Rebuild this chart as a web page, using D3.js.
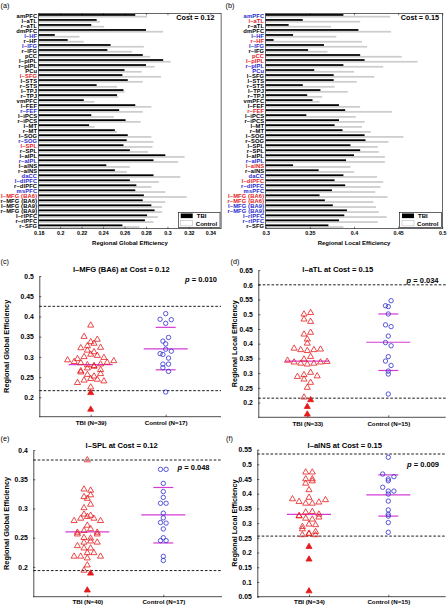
<!DOCTYPE html>
<html><head><meta charset="utf-8">
<script src="https://cdn.jsdelivr.net/npm/d3@7"></script>
<style>body{margin:0;background:#fff}svg{display:block}</style>
</head><body><svg id="chart" width="448" height="606"></svg>
<script>
// ---------------- DATA ----------------
const regions = ["amPFC","l–aTL","r–aTL","dmPFC","l–HF","r–HF","l–IFG","r–IFG","pCC","l–pIPL","r–pIPL","PCu","l–SFG","l–STS","r–STS","l–TPJ","r–TPJ","vmPFC","l–FEF","r–FEF","l–iPCS","r–iPCS","l–MT","r–MT","l–SOG","r–SOG","l–SPL","r–SPL","l–aIPL","r–aIPL","l–aINS","r–aINS","daCC","l–dlPFC","r–dlPFC","msPFC","l–MFG (BA6)","r–MFG (BA6)","l–MFG (BA9)","r–MFG (BA9)","l–rlPFC","r–rlPFC","r–SFG"];
const labelColorA = ["k","k","k","k","b","k","b","k","k","k","k","k","r","k","k","k","k","k","k","b","k","k","k","k","k","b","r","k","k","b","k","k","b","b","k","b","r","k","k","k","k","k","k"];
const labelColorB = ["b","r","k","k","b","r","b","k","r","r","b","b","k","k","k","k","k","k","k","r","k","k","k","k","k","k","k","k","k","b","r","k","b","r","b","b","r","r","b","b","b","b","k"];
const tbiGlobal = [0.270,0.234,0.229,0.280,0.195,0.207,0.247,0.244,0.277,0.296,0.280,0.260,0.258,0.263,0.234,0.259,0.253,0.222,0.270,0.255,0.229,0.261,0.227,0.251,0.263,0.262,0.259,0.265,0.298,0.287,0.243,0.251,0.287,0.265,0.271,0.270,0.278,0.277,0.285,0.288,0.281,0.279,0.258];
const ctrlGlobal = [0.281,0.237,0.241,0.296,0.218,0.222,0.278,0.267,0.284,0.303,0.288,0.276,0.294,0.277,0.253,0.260,0.254,0.232,0.285,0.277,0.250,0.275,0.232,0.253,0.285,0.287,0.286,0.282,0.316,0.310,0.265,0.262,0.312,0.292,0.285,0.298,0.318,0.298,0.295,0.295,0.291,0.287,0.274];
const tbiLocal = [0.388,0.342,0.326,0.405,0.331,0.309,0.366,0.348,0.407,0.412,0.388,0.355,0.377,0.377,0.342,0.362,0.347,0.353,0.383,0.390,0.346,0.383,0.378,0.387,0.412,0.413,0.396,0.407,0.400,0.391,0.331,0.360,0.388,0.378,0.390,0.375,0.361,0.367,0.376,0.392,0.389,0.383,0.371];
const ctrlLocal = [0.441,0.407,0.374,0.442,0.380,0.409,0.415,0.370,0.454,0.472,0.433,0.400,0.423,0.403,0.378,0.393,0.364,0.361,0.407,0.443,0.402,0.412,0.409,0.419,0.456,0.439,0.427,0.428,0.435,0.435,0.396,0.400,0.426,0.433,0.430,0.424,0.438,0.422,0.425,0.428,0.437,0.427,0.388];
const ticksA = [0.18,0.2,0.22,0.24,0.26,0.28,0.3,0.32,0.34];
const ticksB = [0.3,0.35,0.4,0.45,0.5];
const legendLabels = ["TBI","Control"];

// panel (c)
const tbiC = [0.378,0.350,0.343,0.337,0.333,0.327,0.323,0.322,0.316,0.312,0.306,0.303,0.300,0.298,0.295,0.292,0.290,0.288,0.286,0.285,0.282,0.280,0.278,0.276,0.272,0.268,0.265,0.262,0.258,0.256,0.252,0.246,0.244,0.242,0.240,0.236,0.225];
const tbiOutC = [0.211,0.170];
const ctrlC = [0.407,0.393,0.392,0.383,0.348,0.339,0.332,0.319,0.314,0.308,0.306,0.297,0.282,0.282,0.273,0.264,0.213];
const tbiMeanC = 0.281, ctrlMeanC = 0.320, ctrlSdC = [0.373,0.268];
const thrC = [0.425,0.2164];
const ticksC = [0.2,0.25,0.3,0.35,0.4,0.45,0.5];
const catC = ["TBI (N=39)","Control (N=17)"];
// panel (d)
const tbiD = [0.505,0.500,0.483,0.475,0.438,0.432,0.415,0.401,0.384,0.381,0.379,0.379,0.376,0.356,0.347,0.343,0.339,0.337,0.337,0.333,0.333,0.330,0.302,0.294,0.290,0.288,0.279,0.268,0.251,0.218];
const tbiOutD = [0.209,0.186,0.160];
const ctrlD = [0.546,0.529,0.526,0.501,0.464,0.458,0.426,0.404,0.393,0.356,0.341,0.326,0.307,0.297,0.229];
const tbiMeanD = 0.341, ctrlMeanD = 0.405, ctrlSdD = [0.501,0.309];
const thrD = [0.6,0.215];
const ticksD = [0.2,0.25,0.3,0.35,0.4,0.45,0.5,0.55,0.6,0.65];
const catD = ["TBI (N=33)","Control (N=15)"];
// panel (e)
const tbiE = [0.383,0.333,0.331,0.323,0.320,0.317,0.307,0.301,0.290,0.288,0.286,0.283,0.283,0.279,0.279,0.271,0.265,0.262,0.259,0.259,0.256,0.256,0.250,0.249,0.244,0.242,0.242,0.236,0.232,0.232,0.224,0.224,0.218,0.218,0.218,0.215,0.203,0.194];
const tbiOutE = [0.189,0.160];
const ctrlE = [0.367,0.367,0.343,0.329,0.319,0.309,0.309,0.292,0.284,0.276,0.275,0.265,0.250,0.245,0.245,0.218,0.211];
const tbiMeanE = 0.260, ctrlMeanE = 0.289, ctrlSdE = [0.336,0.241];
const thrE = [0.383,0.1937];
const ticksE = [0.2,0.25,0.3,0.35,0.4];
const catE = ["TBI (N=40)","Control (N=17)"];
// panel (f)
const tbiF = [0.473,0.473,0.450,0.450,0.443,0.435,0.413,0.387,0.382,0.379,0.373,0.371,0.367,0.367,0.339,0.337,0.330,0.325,0.324,0.320,0.316,0.313,0.296,0.294,0.288,0.280,0.271,0.265,0.263,0.260,0.260];
const tbiOutF = [0.220,0.177,0.069];
const ctrlF = [0.524,0.467,0.458,0.450,0.444,0.422,0.409,0.409,0.399,0.375,0.345,0.330,0.324,0.302,0.269];
const tbiMeanF = 0.330, ctrlMeanF = 0.396, ctrlSdF = [0.464,0.324];
const thrF = [0.535,0.256];
const ticksF = [0.05,0.1,0.15,0.2,0.25,0.3,0.35,0.4,0.45,0.5,0.55];
const catF = ["TBI (N=34)","Control (N=15)"];

// ---------------- DRAW ----------------
const FONT = '"Liberation Sans", Arial, Helvetica, sans-serif';
const colorMap = {k:"#000000", b:"#2828cc", r:"#e41a1c"};
const RED = "#e41a1c", BLUE = "#2f2fd0", MAG = "#d53cd5";
const svg = d3.select("#chart");
svg.append("rect").attr("width",448).attr("height",606).attr("fill","#fff");
const fmt = d3.format("~g");

function txt(g, x, y, s, size, opts={}){
  return g.append("text").attr("x",x).attr("y",y).text(s)
    .attr("font-family",FONT).attr("font-size",size)
    .attr("font-weight", opts.weight||"bold")
    .attr("text-anchor", opts.anchor||"start")
    .attr("fill", opts.fill||"#000");
}

function barPanel(o){
  const g = svg.append("g");
  const x = d3.scaleLinear().domain(o.domain).range([o.x0,o.x1]);
  const y = d3.scaleBand().domain(regions).range([o.y0,o.y1]).paddingInner(0.3).paddingOuter(0.15);
  const bh = y.bandwidth()/2;
  const base = x(o.domain[0]);
  g.selectAll("rect.ctrl").data(regions).join("rect").attr("class","ctrl")
    .attr("x",base).attr("y",d=>y(d)+bh).attr("height",bh)
    .attr("width",(d,i)=>x(o.ctrl[i])-base).attr("fill","#cdcdcd");
  g.selectAll("rect.tbi").data(regions).join("rect").attr("class","tbi")
    .attr("x",base).attr("y",d=>y(d)).attr("height",bh)
    .attr("width",(d,i)=>x(o.tbi[i])-base).attr("fill","#000");
  g.append("rect").attr("x",o.x0).attr("y",o.y0).attr("width",o.x1-o.x0).attr("height",o.y1-o.y0)
    .attr("fill","none").attr("stroke","#000").attr("stroke-width",0.6);
  const ax = g.append("g").attr("transform",`translate(0,${o.y1})`)
    .call(d3.axisBottom(x).tickValues(o.ticks).tickFormat(fmt).tickSize(-2).tickSizeOuter(0).tickPadding(2.5));
  ax.select(".domain").remove();
  ax.selectAll("line").attr("stroke-width",0.5);
  ax.selectAll("text").attr("font-size",5.3).attr("font-family",FONT).attr("font-weight","bold");
  const at = g.append("g").attr("transform",`translate(0,${o.y0})`)
    .call(d3.axisTop(x).tickValues(o.ticks).tickFormat("").tickSize(-2).tickSizeOuter(0));
  at.select(".domain").remove();
  at.selectAll("line").attr("stroke-width",0.5);
  g.selectAll("text.row").data(regions).join("text").attr("class","row")
    .attr("x",o.x0-1.5).attr("y",d=>y(d)+y.bandwidth()/2).attr("dy","0.36em")
    .attr("text-anchor","end").attr("font-family",FONT).attr("font-size",5.8).attr("font-weight","bold")
    .attr("letter-spacing",0.12)
    .attr("fill",(d,i)=>colorMap[o.colors[i]]).text(d=>d);
  txt(g,(o.x0+o.x1)/2,245,o.xlabel,6,{anchor:"middle"});
  txt(g,o.costX,20,o.cost,7.2,{anchor:"end"});
  txt(g,o.letterX,7.5,o.letter,7.2,{weight:"normal"});
  const lx = o.legendRight-41.7, ly = 212.3;
  g.append("rect").attr("x",lx).attr("y",ly).attr("width",41.7).attr("height",15).attr("fill","#fff").attr("stroke","#000").attr("stroke-width",0.6);
  g.append("rect").attr("x",lx+2.4).attr("y",ly+1.2).attr("width",12).attr("height",4.6).attr("fill","#000");
  g.append("rect").attr("x",lx+2.4).attr("y",ly+8).attr("width",12).attr("height",5.6).attr("fill","#fff").attr("stroke","#999").attr("stroke-width",0.4);
  txt(g,lx+18.5,ly+5.6,legendLabels[0],6,{fill:"#000"});
  txt(g,lx+17.5,ly+13.3,legendLabels[1],6,{fill:"#000"});
}

function spreadX(vals, y, cx, binPx, spacing){
  const items = vals.map(d=>({v:d.v, filled:d.filled, py:y(d.v)}));
  const groups = d3.groups(items, d=>Math.floor(d.py/binPx)).sort((a,b)=>a[0]-b[0]);
  groups.forEach(([k,arr],bi)=>{
    arr.sort((a,b)=>a.v-b.v);
    const n = arr.length, slots = [];
    for(let j=0;j<n;j++) slots.push(j%2===0 ? j/2 : n-1-(j-1)/2);
    if(bi%2) slots.reverse();
    arr.forEach((d,j)=>{ d.px = cx + (slots[j]-(n-1)/2)*spacing; });
  });
  return items;
}

function scatterPanel(o){
  const g = svg.append("g");
  const y = d3.scaleLinear().domain(o.yDomain).range([o.yBottom,o.yTop]);
  const x = d3.scalePoint().domain(o.cats).range([o.xTbi,o.xCtrl]);
  g.selectAll("line.thr").data(o.thr).join("line").attr("class","thr")
    .attr("x1",o.xLeft).attr("x2",o.xRight).attr("y1",d=>y(d)).attr("y2",d=>y(d))
    .attr("stroke","#000").attr("stroke-width",0.9).attr("stroke-dasharray","2.6,1.8");
  const yg = g.append("g").attr("transform",`translate(${o.xLeft},0)`)
    .call(d3.axisLeft(y).tickValues(o.ticks).tickFormat(fmt).tickSize(-2).tickSizeOuter(0).tickPadding(5.5));
  yg.select(".domain").attr("stroke-width",0.7);
  yg.selectAll("line").attr("stroke-width",0.6);
  yg.selectAll("text").attr("font-size",6.8).attr("font-family",FONT).attr("font-weight","bold");
  g.append("line").attr("x1",o.xLeft).attr("x2",o.xRight).attr("y1",o.yBottom).attr("y2",o.yBottom).attr("stroke","#000").attr("stroke-width",0.7);
  const xg = g.append("g").attr("transform",`translate(0,${o.yBottom})`)
    .call(d3.axisBottom(x).tickSize(-2).tickSizeOuter(0).tickPadding(o.xPad));
  xg.select(".domain").remove();
  xg.selectAll("line").attr("stroke-width",0.6);
  xg.selectAll("text").attr("font-size",6.2).attr("font-family",FONT).attr("font-weight","bold");
  const xT = x(o.cats[0]), xC = x(o.cats[1]);
  const segs = [{c:xT,v:o.tbiMean,w:22},{c:xC,v:o.ctrlMean,w:22}].concat(o.ctrlSd.map(v=>({c:xC,v,w:10})));
  g.selectAll("line.m").data(segs).join("line").attr("class","m")
    .attr("x1",d=>d.c-d.w).attr("x2",d=>d.c+d.w).attr("y1",d=>y(d.v)).attr("y2",d=>y(d.v))
    .attr("stroke",MAG).attr("stroke-width",1.2);
  const tbiAll = o.tbi.map(v=>({v,filled:false})).concat(o.tbiOut.map(v=>({v,filled:true})));
  const tp = spreadX(tbiAll, y, xT, 6, 6.6);
  const tri = d3.symbol(d3.symbolTriangle, 16);
  g.selectAll("path.t").data(tp).join("path").attr("class","t")
    .attr("d",tri).attr("transform",d=>`translate(${d.px},${d.py})`)
    .attr("fill",d=>d.filled?RED:"none").attr("stroke",RED).attr("stroke-width",0.8);
  const cp = spreadX(o.ctrl.map(v=>({v,filled:false})), y, xC, 6, 5.6);
  g.selectAll("circle.c").data(cp).join("circle").attr("class","c")
    .attr("cx",d=>d.px).attr("cy",d=>d.py).attr("r",2.2)
    .attr("fill","none").attr("stroke",BLUE).attr("stroke-width",0.8);
  txt(g,o.titleX,o.titleY,o.title,7.6,{anchor:"middle"});
  const p = txt(g,o.pX,o.pY,"",7.5,{anchor:"end"});
  p.append("tspan").attr("font-style","italic").text("p");
  p.append("tspan").text(" = "+o.p);
  txt(g,o.letterX,o.letterY,o.letter,7.2,{weight:"normal"});
  g.append("text").attr("transform",`translate(${o.ylabX},${(o.yTop+o.yBottom)/2}) rotate(-90)`)
    .attr("text-anchor","middle").attr("dy","0.35em").attr("font-family",FONT).attr("font-size",o.ylabSize)
    .attr("font-weight","bold").text(o.ylab);
}

barPanel({x0:38.7,x1:221.1,y0:13.3,y1:228.7,domain:[0.18,0.35],ticks:ticksA,tbi:tbiGlobal,ctrl:ctrlGlobal,
  colors:labelColorA,xlabel:"Regional Global Efficiency",cost:"Cost = 0.12",costX:214.5,letter:"(a)",letterX:0.5,legendRight:220});
barPanel({x0:265.7,x1:442.3,y0:13.3,y1:228.7,domain:[0.3,0.5],ticks:ticksB,tbi:tbiLocal,ctrl:ctrlLocal,
  colors:labelColorB,xlabel:"Regional Local Efficiency",cost:"Cost = 0.15",costX:439,letter:"(b)",letterX:225.5,legendRight:441.3});

scatterPanel({xLeft:39.3,xRight:221,yBottom:416.7,yTop:276,yDomain:[0.152,0.5],xTbi:90.7,xCtrl:165.7,cats:catC,
  tbi:tbiC,tbiOut:tbiOutC,ctrl:ctrlC,tbiMean:tbiMeanC,ctrlMean:ctrlMeanC,ctrlSd:ctrlSdC,thr:thrC,ticks:ticksC,xPad:3.9,
  title:"l–MFG (BA6) at Cost = 0.12",titleX:121.3,titleY:271.5,p:"0.010",pX:217,pY:281.5,letter:"(c)",letterX:0.5,letterY:263.5,
  ylab:"Regional Global Efficiency",ylabX:6.5,ylabSize:7.4});
scatterPanel({xLeft:258.3,xRight:445.7,yBottom:417.3,yTop:270.1,yDomain:[0.15,0.65],xTbi:307.3,xCtrl:388.3,cats:catD,
  tbi:tbiD,tbiOut:tbiOutD,ctrl:ctrlD,tbiMean:tbiMeanD,ctrlMean:ctrlMeanD,ctrlSd:ctrlSdD,thr:thrD,ticks:ticksD,xPad:3.9,
  title:"l–aTL at Cost = 0.15",titleX:337.8,titleY:272,p:"0.034",pX:438.5,pY:282.5,letter:"(d)",letterX:230.5,letterY:264,
  ylab:"Regional Local Efficiency",ylabX:234.5,ylabSize:7.2});
scatterPanel({xLeft:33.3,xRight:222,yBottom:596.7,yTop:450.1,yDomain:[0.149,0.4],xTbi:87.3,xCtrl:163.3,cats:catE,
  tbi:tbiE,tbiOut:tbiOutE,ctrl:ctrlE,tbiMean:tbiMeanE,ctrlMean:ctrlMeanE,ctrlSd:ctrlSdE,thr:thrE,ticks:ticksE,xPad:3,
  title:"l–SPL at Cost = 0.12",titleX:121.7,titleY:448,p:"0.048",pX:209.5,pY:470,letter:"(e)",letterX:0.5,letterY:441,
  ylab:"Regional Global Efficiency",ylabX:6.5,ylabSize:7.4});
scatterPanel({xLeft:257.3,xRight:445.7,yBottom:596.7,yTop:449.6,yDomain:[0.05,0.55],xTbi:309,xCtrl:388.3,cats:catF,
  tbi:tbiF,tbiOut:tbiOutF,ctrl:ctrlF,tbiMean:tbiMeanF,ctrlMean:ctrlMeanF,ctrlSd:ctrlSdF,thr:thrF,ticks:ticksF,xPad:3,
  title:"l–aINS at Cost = 0.15",titleX:344.8,titleY:448,p:"0.009",pX:439,pY:467,letter:"(f)",letterX:226,letterY:441,
  ylab:"Regional Local Efficiency",ylabX:234.5,ylabSize:7.2});
</script>
</body></html>
